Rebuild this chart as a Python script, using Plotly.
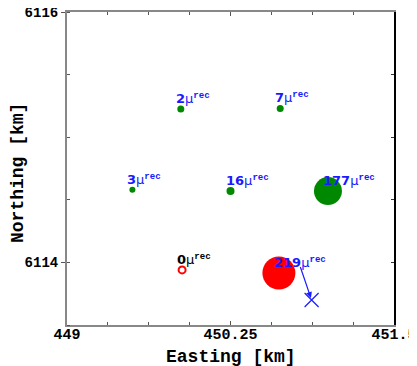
import plotly.graph_objects as go

# ---- data ----
easting = [449.87, 450.63, 449.50, 450.25, 450.995, 450.62, 449.88]
northing = [6115.225, 6115.23, 6114.58, 6114.57, 6114.57, 6113.915, 6113.94]
counts = [2, 7, 3, 16, 177, 219, 0]
x_true = [450.87]
y_true = [6113.70]
arrow_from = (450.78, 6113.975)

x_tickvals = [449, 450.25, 451.5]
x_ticktext = ["449", "450.25", "451.5"]
y_tickvals = [6114, 6116]
y_ticktext = ["6114", "6116"]

# ---- styles ----
marker_sizes = [7, 7, 6, 8, 28, 33, 7]
marker_colors = ["#008800", "#008800", "#008800", "#008800", "#008800", "#ff0000", "#ff0000"]
marker_symbols = ["circle"] * 6 + ["circle-open"]
label_colors = ["#1a1aff"] * 6 + ["#000000"]

fig = go.Figure()
fig.add_trace(go.Scatter(
    x=easting, y=northing, mode="markers",
    marker=dict(size=marker_sizes, color=marker_colors, symbol=marker_symbols, opacity=1,
                line=dict(width=[0] * 6 + [2], color=marker_colors)),
    showlegend=False, hoverinfo="skip"))
fig.add_trace(go.Scatter(
    x=x_true, y=y_true, mode="markers",
    marker=dict(size=14, symbol="x-thin-open", color="#1a1aff", opacity=1,
                line=dict(width=1.2, color="#1a1aff")),
    showlegend=False, hoverinfo="skip"))

sup = "<sup><span style='font-family:Liberation Mono;font-weight:bold'>rec</span></sup>"
for x, y, c, col in zip(easting, northing, counts, label_colors):
    fig.add_annotation(x=x, y=y, xref="x", yref="y", showarrow=False,
                       text=f"<b>{c}</b>μ{sup}", xanchor="left", yanchor="bottom",
                       xshift=-7, yshift=1,
                       font=dict(family="DejaVu Sans", size=13, color=col))

fig.add_annotation(x=x_true[0], y=y_true[0], ax=arrow_from[0], ay=arrow_from[1],
                   xref="x", yref="y", axref="x", ayref="y", text="",
                   showarrow=True, arrowhead=2, arrowsize=1, arrowwidth=1.2,
                   arrowcolor="#1a1aff", standoff=2)

# cut-off legend dot
fig.add_annotation(x=(409 - 59) / 327, y=(317 - 52) / 313, xref="paper", yref="paper",
                   xanchor="right", text="•", showarrow=False, font=dict(size=8, color="#444"))

xtickfont = dict(family="Liberation Mono", size=15, color="black", weight="bold")
ytickfont = dict(family="Liberation Mono", size=14, color="black", weight="bold")
titlefont = dict(family="Liberation Mono", size=18, color="black", weight="bold")

# axis titles
fig.add_annotation(x=0.5015, y=(317 - 349) / 313, xref="paper", yref="paper",
                   text="Easting [km]", showarrow=False, font=titlefont,
                   xanchor="center", yanchor="middle")
fig.add_annotation(x=(10 - 59) / 327, y=(317 - 165) / 313, xref="paper", yref="paper",
                   text="Northing [km]", showarrow=False, font=titlefont, textangle=-90,
                   xanchor="center", yanchor="middle")

fig.update_layout(
    width=409, height=358,
    margin=dict(l=59, r=23, t=4, b=41),
    paper_bgcolor="white", plot_bgcolor="white",
    xaxis=dict(range=[449, 451.5], tickvals=x_tickvals, ticktext=x_ticktext, automargin=False,
               ticklabeloverflow="allow", ticklabelstandoff=-6,
               ticks="inside", ticklen=4, tickcolor="#555", showgrid=False, zeroline=False,
               showline=True, linecolor="#888", linewidth=2, mirror="ticks",
               minor=dict(dtick=0.3125, tick0=449, ticks="inside", ticklen=3, tickcolor="#555"),
               tickfont=xtickfont),
    yaxis=dict(range=[6113.5, 6116], tickvals=y_tickvals, ticktext=y_ticktext, automargin=False,
               ticklabeloverflow="allow",
               ticks="outside", ticklen=4, tickcolor="#555", showgrid=False, zeroline=False,
               showline=True, linecolor="#888", linewidth=2,
               minor=dict(dtick=0.5, tick0=6113.5, ticks="inside", ticklen=3, tickcolor="#555"),
               tickfont=ytickfont),
    yaxis2=dict(range=[6113.5, 6116], overlaying="y", side="right", tickvals=[6114, 6114.5, 6115, 6115.5],
                ticks="inside", ticklen=3, tickcolor="#333", showticklabels=False, showgrid=False,
                automargin=False,
                zeroline=False, showline=True, linecolor="black", linewidth=1.5),
)
fig.add_trace(go.Scatter(x=[449], y=[6114], yaxis="y2", mode="markers", marker=dict(opacity=0),
                         showlegend=False, hoverinfo="skip"))

fig.write_html("out.html")
